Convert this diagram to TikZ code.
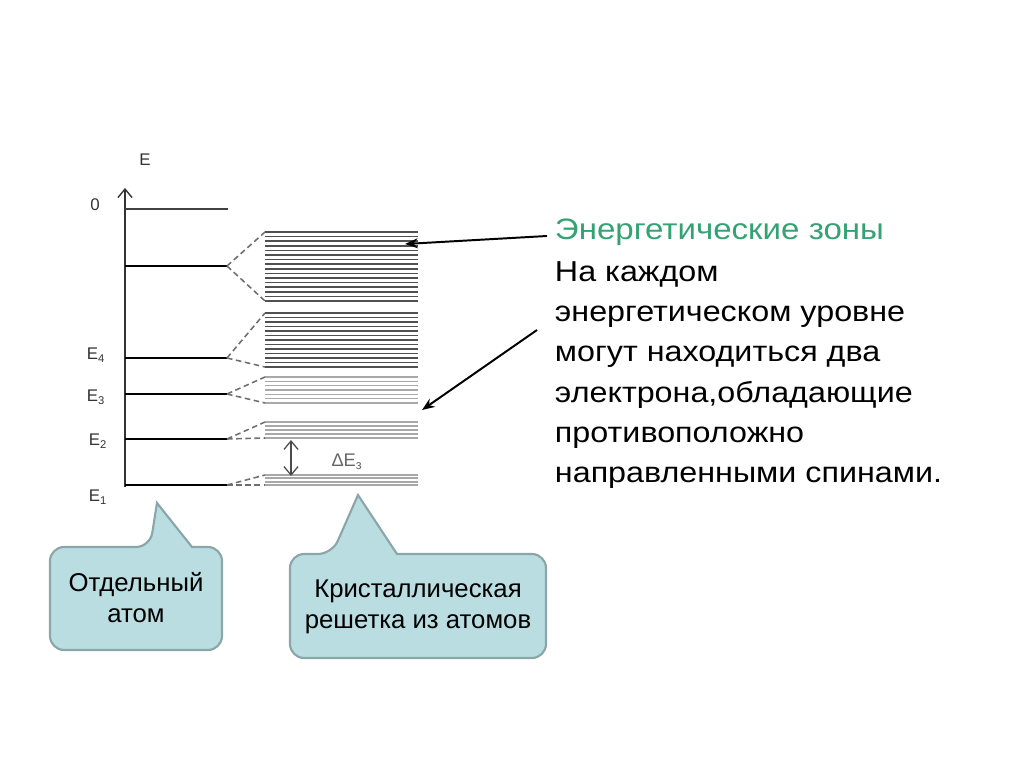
\documentclass[tikz,border=0pt]{standalone}
\usepackage{fontspec}
\setmainfont{Liberation Sans}
\newfontfamily\widesans[FakeStretch=1.12]{Liberation Sans}
\usepackage{tikz}
\usetikzlibrary{positioning,arrows.meta}
\definecolor{zgreen}{HTML}{35A274}
\definecolor{zdark}{HTML}{505050}
\definecolor{zlight}{HTML}{A8A8A8}
\definecolor{zdash}{HTML}{6E6E6E}
\definecolor{callfill}{HTML}{B9DDE1}
\definecolor{calldraw}{HTML}{8AA6A9}

\begin{document}
\begin{tikzpicture}[x=0.025cm,y=-0.025cm,
    level/.style={line width=2pt,black},
    split/.style={zdash,line width=1.1pt,dash pattern=on 4pt off 2.5pt},
    lbl/.style={font=\fontsize{12}{14}\selectfont,text=black!80},
    callout/.style={fill=callfill,draw=calldraw,line width=1.5pt},
    calltext/.style={font=\fontsize{18.3}{22}\selectfont,align=center},
    pointer/.style={-{Stealth[length=9pt,width=7pt]},line width=1.4pt},
    gaparrow/.style={{Straight Barb[length=6pt,width=10pt]}-{Straight Barb[length=6pt,width=10pt]}}]
    \useasboundingbox (0,0) rectangle (1024,767);
    % ось энергии
    \draw[-{Straight Barb[length=6pt,width=10pt]},line width=1pt,black!80] (125,487) -- (125,188);
    \node[lbl] (E) at (145,160) {E};
    \node[lbl] (zero) at (95,205) {0};
    \draw[line width=1pt,black!75] (125,209) -- (228,209);
    % уровни отдельного атома
    \foreach \y/\nm in {266/L5,358/L4,394/L3,439/L2,485/L1}
      \draw[level] (125,\y) -- (227,\y) coordinate (\nm);
    \node[lbl] (E4) at (96,355) {E\textsubscript{4}};
    \node[lbl] (E3) at (96,397) {E\textsubscript{3}};
    \node[lbl] (E2) at (98,441) {E\textsubscript{2}};
    \node[lbl] (E1) at (98,497) {E\textsubscript{1}};
    % зоны кристалла
    \foreach \t/\b/\n/\c/\w/\nm in {232/301/15/zdark/1.1/B5,313/367/12/zdark/1.1/B4,
        377/403/6/zlight/0.9/B3,422/438/4/zlight/1.3/B2,475/485/3/zlight/1.2/B1} {
      \foreach \i in {0,...,\n}
        \draw[\c,line width=\w pt] (265,{\t+(\b-\t)*\i/\n}) -- (418,{\t+(\b-\t)*\i/\n});
      \coordinate (\nm t) at (265,\t);
      \coordinate (\nm b) at (265,\b);
    }
    % расщепление уровней
    \foreach \nm in {1,...,5} {
      \draw[split] (L\nm) -- (B\nm t);
      \draw[split] (L\nm) -- (B\nm b);
    }
    % запрещенная зона
    \coordinate (gapt) at (291,440);
    \coordinate (gapb) at (291,476);
    \draw[gaparrow,line width=0.9pt,black!70] (gapt) -- (gapb);
    \node[font=\fontsize{13}{15}\selectfont,text=black!60] (dE) at (347,462) {ΔE\textsubscript{з}};
    % подписи справа
    \node[anchor=west,font=\widesans\fontsize{21}{24}\selectfont,text=zgreen] (zones) at (550,232) {Энергетические зоны};
    \node[anchor=north west,align=left,font=\widesans\fontsize{20.5}{28.5}\selectfont] (note) at (550,257)
      {На каждом\\энергетическом уровне\\могут находиться два\\электрона,обладающие\\противоположно\\направленными спинами.};
    \coordinate (arr1) at (405,244);
    \coordinate (arr2) at (422,410);
    \draw[pointer] (547,236) -- (arr1);
    \draw[pointer] (537,330) -- (arr2);
    % выноски
    \draw[callout] (50,600) [rounded corners=10pt] -- (50,547) -- (150,547) [sharp corners] -- (157,503) -- (192,547)
      [rounded corners=10pt] -- (222,547) -- (222,650) -- (50,650) -- cycle;
    \node[calltext] (atom) at (136,598) {Отдельный\\атом};
    \draw[callout] (290,606) [rounded corners=10pt] -- (290,554) -- (332,554) [sharp corners] -- (358,495) -- (397,554)
      [rounded corners=10pt] -- (546,554) -- (546,658) -- (290,658) -- cycle;
    \node[calltext] (lattice) at (418,607) {Кристаллическая\\решетка из атомов};
  \end{tikzpicture}
\end{document}
